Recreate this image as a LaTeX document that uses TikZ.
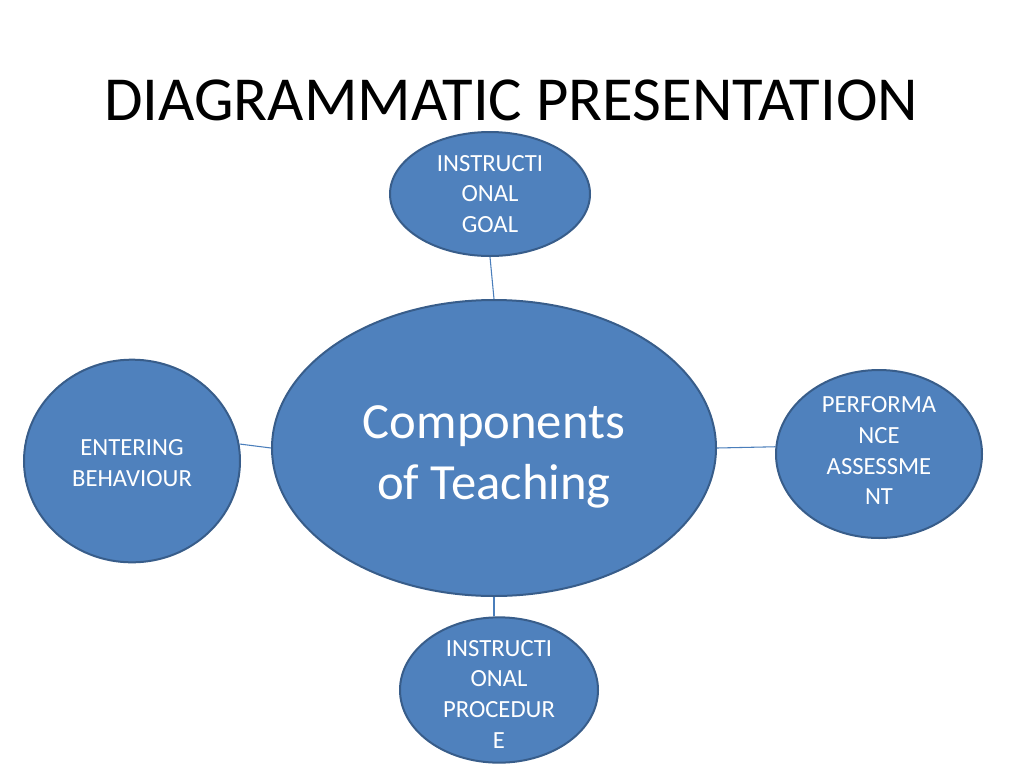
\documentclass[tikz,border=0pt]{standalone}
\usepackage{fontspec}
\setmainfont{Carlito}
\usetikzlibrary{shapes.geometric}
\definecolor{ofill}{HTML}{4F81BD}
\definecolor{oline}{HTML}{385D8A}
\definecolor{conn}{HTML}{4A7EBB}
\tikzset{
  blob/.style={ellipse, draw=oline, fill=ofill, line width=1.5pt, inner sep=0pt},
  intext/.style={text=white, align=center, inner sep=0pt},
  smalltxt/.style={intext, font=\fontsize{18.5}{23}\selectfont},
  bigtxt/.style={intext, font=\fontsize{38}{46}\selectfont},
  link/.style={draw=conn, line width=0.8pt}
}
\begin{document}
\begin{tikzpicture}[x=0.75pt,y=-0.75pt]
\useasboundingbox (0,0) rectangle (1024,768);
\fill[white] (0,0) rectangle (1024,768);
\node[font=\fontsize{47}{56}\selectfont] (title) at (511,100) {DIAGRAMMATIC PRESENTATION};
\node[blob, minimum width=333pt, minimum height=222pt,
  label={[bigtxt, yshift=-6.5pt]center:{Components\\of Teaching}}] (center) at (494,448) {};
\node[blob, minimum width=150pt, minimum height=93pt,
  label={[smalltxt, yshift=0pt]center:{INSTRUCTI\\ONAL\\GOAL}}] (goal) at (490,194) {};
\node[blob, minimum width=162pt, minimum height=152pt,
  label={[smalltxt, yshift=-1.5pt]center:{ENTERING\\BEHAVIOUR}}] (entry) at (132,461) {};
\node[blob, minimum width=154.5pt, minimum height=126pt,
  label={[smalltxt, yshift=2.5pt]center:{PERFORMA\\NCE\\ASSESSME\\NT}}] (perf) at (879,454) {};
\node[blob, minimum width=148.5pt, minimum height=109pt,
  label={[smalltxt, yshift=-3pt]center:{INSTRUCTI\\ONAL\\PROCEDUR\\E}}] (proc) at (499,690) {};
\path[link] (goal.south) -- (center.north);
\path[link] (entry.9) -- (center.west);
\path[link] (center.east) -- (perf.176);
\path[link] (center.south) -- (center.south |- proc.north);
\end{tikzpicture}
\end{document}
